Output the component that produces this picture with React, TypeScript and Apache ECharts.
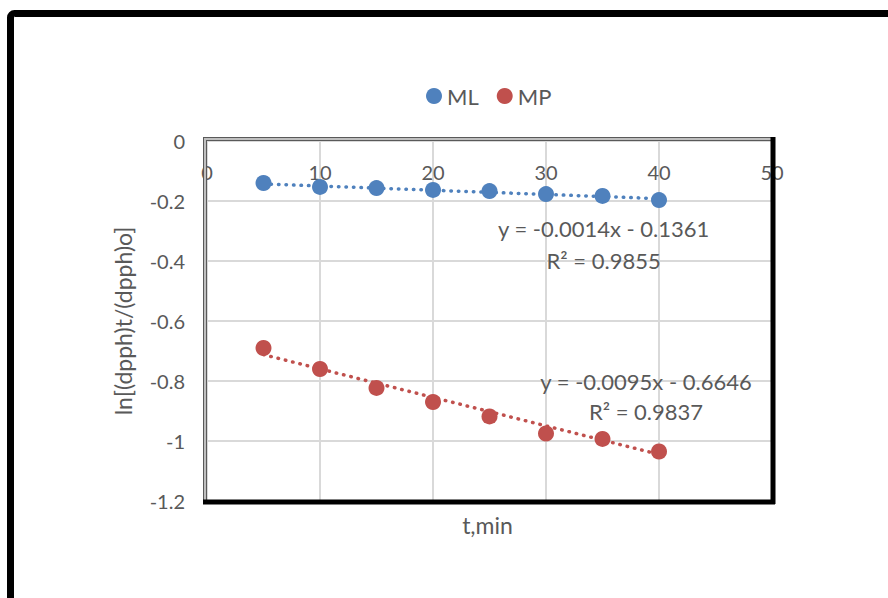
import React, { useEffect, useRef } from "react";
import * as echarts from "echarts";

const tMinutes = [5, 10, 15, 20, 25, 30, 35, 40];
const mlValues = [-0.14, -0.153, -0.157, -0.163, -0.167, -0.177, -0.183, -0.197];
const mpValues = [-0.69, -0.76, -0.823, -0.87, -0.918, -0.975, -0.993, -1.035];
const seriesNames = ["ML", "MP"];
const seriesColors = ["#4f81bd", "#c0504d"];
const trendSlopes = [-0.0014, -0.0095];
const trendIntercepts = [-0.1361, -0.6646];
const equationTexts = ["y = -0.0014x - 0.1361", "y = -0.0095x - 0.6646"];
const r2Texts = ["R² = 0.9855", "R² = 0.9837"];
// annotation anchor positions in data coordinates [t, eqY, r2Y]
const annotationAnchors = [
  [35.1, -0.293, -0.397],
  [38.85, -0.803, -0.903],
];
const xTicks = [0, 50, 10];
const yTicks = [-1.2, 0, 0.2];

const FONT = "Lato, 'Open Sans', sans-serif";
const GREY = "#595959";

export default function App() {
  const ref = useRef<HTMLDivElement>(null);
  useEffect(() => {
    if (!ref.current) return;
    const chart = echarts.init(ref.current, null, { renderer: "svg" });
    const values = [mlValues, mpValues];
    const series: any[] = [];
    values.forEach((vals, i) => {
      series.push({
        name: seriesNames[i],
        type: "scatter",
        data: tMinutes.map((t, k) => [t, vals[k]]),
        symbol: "circle",
        symbolSize: 16,
        itemStyle: { color: seriesColors[i], opacity: 1 },
        z: 3,
      });
      series.push({
        name: seriesNames[i] + " trend",
        type: "line",
        data: [tMinutes[0], tMinutes[tMinutes.length - 1]].map((t) => [
          t,
          trendSlopes[i] * t + trendIntercepts[i],
        ]),
        showSymbol: false,
        symbol: "none",
        lineStyle: { color: seriesColors[i], width: 3.5, type: [0.5, 7], cap: "round" },
        z: 2,
        silent: true,
      });
    });
    chart.setOption({
      animation: false,
      textStyle: { fontFamily: FONT },
      legend: {
        data: seriesNames,
        left: 421,
        top: 80,
        icon: "circle",
        itemWidth: 16,
        itemHeight: 16,
        itemGap: 18,
        itemStyle: { opacity: 1 },
        textStyle: { fontSize: 22, color: GREY, fontFamily: FONT },
      },
      grid: { left: 207, right: 116, top: 141, bottom: 97, containLabel: false },
      xAxis: {
        type: "value",
        min: xTicks[0],
        max: xTicks[1],
        interval: xTicks[2],
        position: "top",
        axisLine: { show: false },
        axisTick: { show: false },
        axisLabel: { inside: true, margin: 21, fontSize: 20, color: GREY, fontFamily: FONT },
        splitLine: { show: true, lineStyle: { color: "#d9d9d9", width: 2 } },
      },
      yAxis: {
        type: "value",
        min: yTicks[0],
        max: yTicks[1],
        interval: yTicks[2],
        name: "ln[(dpph)t/(dpph)o]",
        nameLocation: "middle",
        nameGap: 73,
        nameRotate: 90,
        nameTextStyle: { fontSize: 23, color: GREY, fontFamily: FONT },
        axisLine: { show: false },
        axisTick: { show: false },
        axisLabel: {
          margin: 22,
          fontSize: 20,
          color: GREY,
          fontFamily: FONT,
          formatter: (v: number) => String(Math.round(v * 10) / 10),
        },
        splitLine: { show: true, lineStyle: { color: "#d9d9d9", width: 2 } },
      },
      series,
    });

    const tl = chart.convertToPixel({ gridIndex: 0 }, [xTicks[0], yTicks[1]]) as number[];
    const br = chart.convertToPixel({ gridIndex: 0 }, [xTicks[1], yTicks[0]]) as number[];
    const graphics: any[] = [
      {
        type: "rect",
        shape: { x: 10.5, y: 13.5, width: 1200, height: 1200, r: 4 },
        style: { fill: "none", stroke: "#000", lineWidth: 7 },
        silent: true,
      },
      // left gray border
      { type: "line", shape: { x1: tl[0] - 2, y1: tl[1] - 2, x2: tl[0] - 2, y2: br[1] }, style: { stroke: "#595959", lineWidth: 4 }, z: 10 },
      { type: "line", shape: { x1: tl[0] - 2, y1: tl[1] - 1, x2: tl[0] - 2, y2: br[1] }, style: { stroke: "#bfbfbf", lineWidth: 2 }, z: 11 },
      // top gray border
      { type: "line", shape: { x1: tl[0] - 4, y1: tl[1] - 2, x2: br[0], y2: tl[1] - 2 }, style: { stroke: "#595959", lineWidth: 4 }, z: 10 },
      { type: "line", shape: { x1: tl[0] - 3, y1: tl[1] - 2, x2: br[0], y2: tl[1] - 2 }, style: { stroke: "#bfbfbf", lineWidth: 2 }, z: 11 },
      // right black border
      { type: "line", shape: { x1: br[0] + 1, y1: tl[1] - 4, x2: br[0] + 1, y2: br[1] + 3 }, style: { stroke: "#000", lineWidth: 5 }, z: 12 },
      // bottom black border
      { type: "line", shape: { x1: tl[0] - 4, y1: br[1] + 1, x2: br[0] + 3, y2: br[1] + 1 }, style: { stroke: "#000", lineWidth: 5 }, z: 12 },
      {
        type: "text",
        x: (tl[0] + br[0]) / 2 - 2,
        y: br[1] + 24,
        style: { text: "t,min", fontSize: 23, fill: GREY, fontFamily: FONT, align: "center", verticalAlign: "middle" },
      },
    ];
    annotationAnchors.forEach((a, i) => {
      const p1 = chart.convertToPixel({ gridIndex: 0 }, [a[0], a[1]]) as number[];
      const p2 = chart.convertToPixel({ gridIndex: 0 }, [a[0], a[2]]) as number[];
      graphics.push({
        type: "text",
        x: p1[0],
        y: p1[1],
        z: 20,
        style: { text: equationTexts[i], fontSize: 22, fill: GREY, fontFamily: FONT, align: "center", verticalAlign: "middle" },
      });
      graphics.push({
        type: "text",
        x: p2[0],
        y: p2[1],
        z: 20,
        style: { text: r2Texts[i], fontSize: 22, fill: GREY, fontFamily: FONT, align: "center", verticalAlign: "middle" },
      });
    });
    chart.setOption({ graphic: graphics });
    return () => chart.dispose();
  }, []);
  return (
    <div
      ref={ref}
      style={{ position: "fixed", left: 0, top: 0, width: 888, height: 598, background: "#fff" }}
    />
  );
}
